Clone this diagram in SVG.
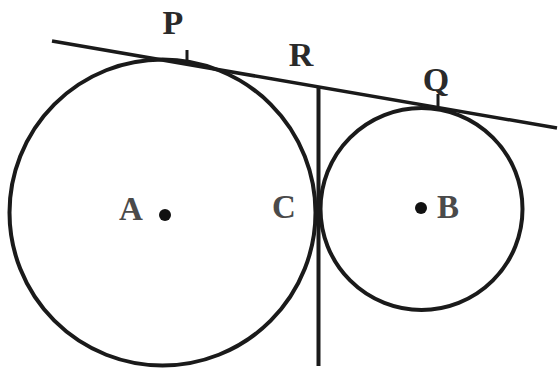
<svg xmlns="http://www.w3.org/2000/svg" width="558" height="369" viewBox="0 0 558 369">
<style>
.circ{fill:#fff;stroke:#1a1a1a;stroke-width:4}
.ln{stroke:#1a1a1a;fill:none}
.lbl{font-family:"Liberation Serif",serif;font-weight:bold;font-size:34px;text-anchor:middle;fill:#2a2a2a}
.lbl2{font-family:"Liberation Serif",serif;font-weight:bold;font-size:33px;text-anchor:middle;fill:#4a4a4a}
.dot{fill:#111}
</style>
<rect width="558" height="369" fill="#fff"/>
<g id="circleA">
<circle class="circ" cx="162.5" cy="212.5" r="153"/>
<circle class="dot" cx="165" cy="215" r="6"/>
<text class="lbl2" x="131" y="220">A</text>
</g>
<g id="circleB">
<circle class="circ" cx="421.5" cy="209" r="101"/>
<circle class="dot" cx="421" cy="208" r="6"/>
<text class="lbl2" x="448" y="218">B</text>
</g>
<g id="connectors">
<line class="ln" x1="52" y1="41" x2="557" y2="128" stroke-width="3.5"/>
<line class="ln" x1="318.5" y1="87" x2="318.5" y2="366" stroke-width="4"/>
<line class="ln" x1="187" y1="50" x2="187" y2="63" stroke-width="3"/>
<line class="ln" x1="438" y1="94" x2="438" y2="106" stroke-width="3"/>
</g>
<g id="P"><text class="lbl" x="173" y="34">P</text></g>
<g id="R"><text class="lbl" x="301" y="66">R</text></g>
<g id="Q"><text class="lbl" x="436" y="91">Q</text></g>
<g id="C"><text class="lbl2" x="284" y="218">C</text></g>
</svg>
